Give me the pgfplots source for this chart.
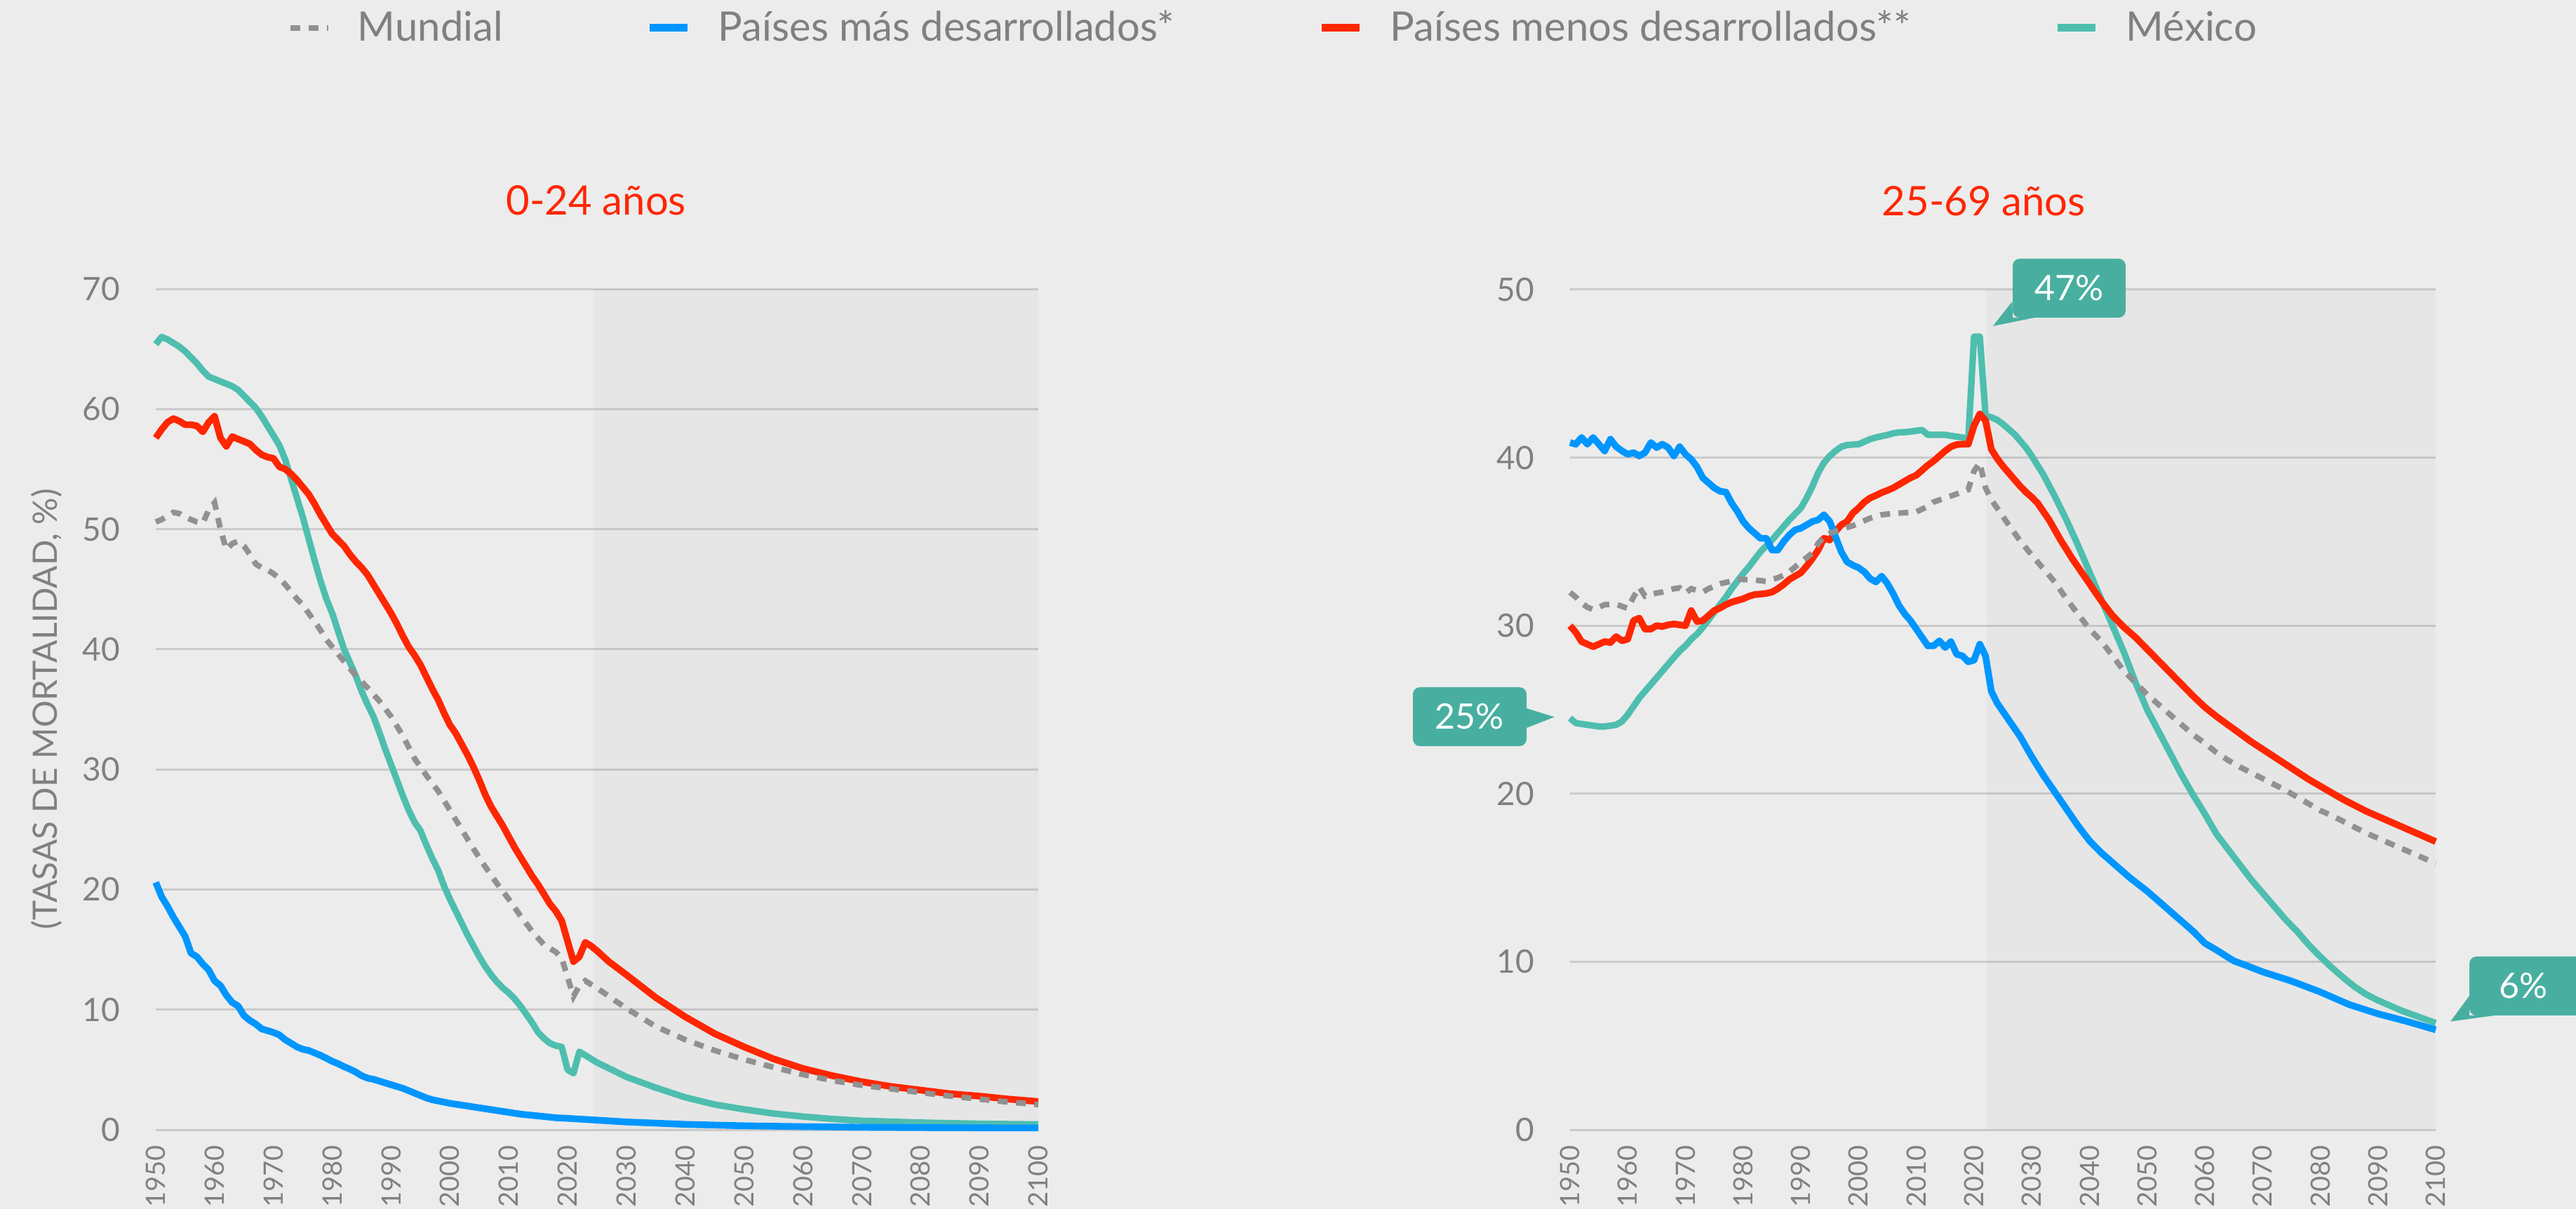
\documentclass[border=0pt]{standalone}
\usepackage{fontspec}
\setmainfont{Lato}
\usepackage{pgfplots}
\pgfplotsset{compat=1.18}
\definecolor{bgc}{RGB}{236,236,236}
\definecolor{gridc}{RGB}{202,202,202}
\definecolor{txtc}{RGB}{128,128,128}
\definecolor{bluec}{RGB}{0,150,255}
\definecolor{redc}{RGB}{255,38,0}
\definecolor{tealc}{RGB}{78,190,175}
\definecolor{callc}{RGB}{72,175,160}
\definecolor{grayc}{RGB}{145,145,145}
\pgfplotsset{
  myaxis/.style={
    scale only axis, enlargelimits=false, clip=false,
    xmin=1950, xmax=2100, xtick={1950,1960,...,2100},
    axis line style={draw=none}, major tick length=0pt,
    ymajorgrids, grid style={gridc, line width=0.75bp},
    /pgf/number format/assume math mode=true,
    /pgf/number format/1000 sep={},
    xticklabel style={yshift=-5.5bp, rotate=90, anchor=east, inner sep=0pt, text=txtc, font=\fontsize{9.5bp}{10bp}\selectfont},
    yticklabel style={anchor=east, inner sep=0pt, xshift=-12.5bp, text=txtc, font=\fontsize{11.5bp}{12bp}\selectfont},
    title style={anchor=base, yshift=20.5bp, text=redc, font=\fontsize{14.5bp}{16bp}\selectfont},
  },
  shadeplot/.style={draw=none, fill=black, fill opacity=0.022, forget plot},
  mund/.style={grayc, line width=2bp, dash pattern=on 3.5bp off 3bp},
  mas/.style={bluec, line width=2.4bp, line join=round},
  men/.style={redc, line width=2.4bp, line join=round},
  mex/.style={tealc, line width=2.3bp, line join=round},
}
\begin{document}
\begin{tikzpicture}
\fill[bgc] (0bp,0bp) rectangle (918bp,431bp);

% ---------- left panel ----------
\begin{axis}[myaxis, at={(55.5bp,28.25bp)}, anchor=south west,
  width=314.5bp, height=299.75bp, ymin=0, ymax=70, ytick={0,10,...,70},
  title={0-24 años}, title style={at={(axis description cs:0.499,1)}},
  ylabel={(TASAS DE MORTALIDAD, \%)},
  ylabel style={at={(axis description cs:-0.124,0.5)}, anchor=center, text=txtc, font=\fontsize{12bp}{13bp}\selectfont},
  legend image code/.code={\draw[#1] (0bp,0bp) -- (13.5bp,0bp);},
  legend columns=4,
  legend style={at={(axis description cs:0.1494,1.3103)}, anchor=west, draw=none, fill=none,
    inner sep=0pt, outer sep=0pt,
    nodes={inner sep=0pt, text=txtc, font=\fontsize{14.5bp}{16bp}\selectfont},
    /tikz/every odd column/.append style={column sep=9.5bp},
    /tikz/every even column/.append style={column sep=51bp}},
]
\addplot[shadeplot] coordinates {(2024.5,0)(2024.5,70)(2100,70)(2100,0)} -- cycle;
\addlegendimage{mund}\addlegendentry{Mundial}
\addlegendimage{mas, line width=2.75bp}\addlegendentry{Países más desarrollados*}
\addlegendimage{men, line width=2.75bp}\addlegendentry{Países menos desarrollados**}
\addlegendimage{mex, line width=2.75bp}\addlegendentry{México}

\addplot[mex, forget plot] coordinates {(1950,65.4)(1951,66.0)(1952,65.8)(1953,65.5)(1954,65.2)(1955,64.8)(1956,64.3)(1957,63.8)(1958,63.2)(1959,62.7)(1960,62.5)(1961,62.3)(1962,62.1)(1963,61.9)(1964,61.6)(1965,61.1)(1966,60.6)(1967,60.1)(1968,59.4)(1969,58.6)(1970,57.8)(1971,57.0)(1972,55.8)(1973,54.2)(1974,52.6)(1975,51.0)(1976,49.2)(1977,47.4)(1978,45.7)(1979,44.2)(1980,43.0)(1981,41.5)(1982,40.0)(1983,38.9)(1984,37.8)(1985,36.5)(1986,35.4)(1987,34.4)(1988,33.1)(1989,31.7)(1990,30.4)(1991,29.1)(1992,27.8)(1993,26.6)(1994,25.6)(1995,24.9)(1996,23.7)(1997,22.6)(1998,21.6)(1999,20.3)(2000,19.2)(2001,18.2)(2002,17.2)(2003,16.2)(2004,15.3)(2005,14.4)(2006,13.6)(2007,12.9)(2008,12.3)(2009,11.8)(2010,11.4)(2011,10.9)(2012,10.3)(2013,9.6)(2014,8.9)(2015,8.1)(2016,7.6)(2017,7.2)(2018,7.0)(2019,6.9)(2020,5.0)(2021,4.7)(2022,6.5)(2023,6.2)(2024,5.9)(2025,5.6)(2030,4.4)(2035,3.5)(2040,2.7)(2045,2.1)(2050,1.7)(2055,1.35)(2060,1.1)(2065,0.9)(2070,0.75)(2080,0.6)(2090,0.5)(2100,0.45)};
\addplot[men, forget plot] coordinates {(1950,57.6)(1951,58.3)(1952,58.9)(1953,59.2)(1954,59.0)(1955,58.7)(1956,58.7)(1957,58.6)(1958,58.1)(1959,58.9)(1960,59.4)(1961,57.6)(1962,56.9)(1963,57.7)(1964,57.5)(1965,57.3)(1966,57.1)(1967,56.6)(1968,56.2)(1969,56.0)(1970,55.9)(1971,55.2)(1972,55.0)(1973,54.6)(1974,54.1)(1975,53.5)(1976,52.9)(1977,52.1)(1978,51.2)(1979,50.4)(1980,49.6)(1981,49.1)(1982,48.6)(1983,47.9)(1984,47.3)(1985,46.8)(1986,46.2)(1987,45.4)(1988,44.6)(1989,43.8)(1990,43.0)(1991,42.1)(1992,41.1)(1993,40.2)(1994,39.5)(1995,38.7)(1996,37.7)(1997,36.7)(1998,35.8)(1999,34.7)(2000,33.7)(2001,33.0)(2002,32.1)(2003,31.2)(2004,30.2)(2005,29.1)(2006,27.9)(2007,26.9)(2008,26.1)(2009,25.3)(2010,24.4)(2011,23.5)(2012,22.7)(2013,21.9)(2014,21.1)(2015,20.4)(2016,19.6)(2017,18.8)(2018,18.2)(2019,17.4)(2020,15.7)(2021,14.0)(2022,14.4)(2023,15.6)(2024,15.3)(2025,14.9)(2027,14.0)(2030,12.9)(2035,11.0)(2040,9.4)(2045,8.0)(2050,6.9)(2055,5.9)(2060,5.1)(2065,4.5)(2070,4.0)(2075,3.6)(2080,3.3)(2085,3.0)(2090,2.8)(2095,2.55)(2100,2.35)};
\addplot[mas, forget plot] coordinates {(1950,20.6)(1951,19.4)(1952,18.6)(1953,17.7)(1954,16.9)(1955,16.1)(1956,14.7)(1957,14.4)(1958,13.8)(1959,13.3)(1960,12.4)(1961,12.0)(1962,11.2)(1963,10.6)(1964,10.3)(1965,9.5)(1966,9.1)(1967,8.8)(1968,8.4)(1969,8.25)(1970,8.1)(1971,7.9)(1972,7.5)(1973,7.2)(1974,6.9)(1975,6.7)(1976,6.6)(1977,6.4)(1978,6.2)(1979,5.95)(1980,5.7)(1981,5.5)(1982,5.25)(1983,5.05)(1984,4.8)(1985,4.5)(1986,4.3)(1987,4.2)(1988,4.05)(1989,3.9)(1990,3.75)(1991,3.6)(1992,3.45)(1993,3.25)(1994,3.05)(1995,2.85)(1996,2.65)(1997,2.5)(1998,2.4)(1999,2.3)(2000,2.2)(2002,2.05)(2004,1.9)(2006,1.75)(2008,1.6)(2010,1.45)(2012,1.3)(2014,1.2)(2016,1.1)(2018,1.0)(2020,0.95)(2025,0.8)(2030,0.65)(2040,0.45)(2050,0.33)(2060,0.26)(2070,0.21)(2080,0.18)(2090,0.16)(2100,0.15)};
\addplot[mund, forget plot] coordinates {(1950,50.6)(1951,50.8)(1952,51.1)(1953,51.4)(1954,51.3)(1955,51.0)(1956,50.8)(1957,50.6)(1958,50.5)(1959,51.6)(1960,52.2)(1961,50.0)(1962,48.3)(1963,48.8)(1964,49.0)(1965,48.6)(1966,47.9)(1967,47.1)(1968,46.8)(1969,46.6)(1970,46.3)(1971,45.9)(1972,45.4)(1973,44.8)(1974,44.2)(1975,43.7)(1976,43.0)(1977,42.3)(1978,41.6)(1979,40.8)(1980,40.2)(1982,39.0)(1984,37.8)(1986,36.8)(1988,35.7)(1990,34.4)(1992,32.8)(1994,30.9)(1996,29.5)(1998,28.2)(2000,26.6)(2002,25.0)(2004,23.4)(2006,21.9)(2008,20.5)(2010,19.2)(2012,17.8)(2014,16.5)(2016,15.4)(2018,14.8)(2019,14.3)(2020,12.7)(2021,11.1)(2022,12.0)(2023,12.4)(2024,12.1)(2025,11.8)(2030,10.1)(2035,8.6)(2040,7.5)(2045,6.6)(2050,5.85)(2055,5.2)(2060,4.6)(2065,4.1)(2070,3.7)(2075,3.4)(2080,3.1)(2085,2.8)(2090,2.55)(2095,2.3)(2100,2.1)};
\end{axis}

% ---------- right panel ----------
\begin{axis}[myaxis, at={(559.5bp,28.25bp)}, anchor=south west,
  width=308.5bp, height=299.5bp, ymin=0, ymax=50, ytick={0,10,...,50},
  title={25-69 años}, title style={at={(axis description cs:0.478,1)}},
]
\addplot[shadeplot] coordinates {(2022.2,0)(2022.2,50)(2100,50)(2100,0)} -- cycle;
\addplot[mex] coordinates {(1950,24.5)(1951,24.2)(1952,24.15)(1953,24.1)(1954,24.05)(1955,24.0)(1956,24.0)(1957,24.05)(1958,24.1)(1959,24.3)(1960,24.7)(1961,25.2)(1962,25.7)(1963,26.1)(1964,26.5)(1965,26.9)(1966,27.3)(1967,27.7)(1968,28.1)(1969,28.5)(1970,28.8)(1971,29.2)(1972,29.5)(1973,29.9)(1974,30.35)(1975,30.8)(1976,31.25)(1977,31.7)(1978,32.2)(1979,32.65)(1980,33.1)(1981,33.5)(1982,33.95)(1983,34.4)(1984,34.75)(1985,35.1)(1986,35.5)(1987,35.9)(1988,36.3)(1989,36.65)(1990,37.0)(1991,37.6)(1992,38.3)(1993,39.1)(1994,39.7)(1995,40.1)(1996,40.4)(1997,40.65)(1998,40.75)(1999,40.78)(2000,40.8)(2001,40.95)(2002,41.1)(2003,41.2)(2004,41.28)(2005,41.35)(2006,41.45)(2007,41.5)(2008,41.52)(2009,41.55)(2010,41.6)(2011,41.65)(2012,41.36)(2013,41.36)(2014,41.36)(2015,41.36)(2016,41.3)(2017,41.25)(2018,41.2)(2019,41.1)(2020,47.2)(2021,47.2)(2022,42.5)(2023,42.4)(2024,42.25)(2025,42.0)(2026,41.7)(2027,41.4)(2028,41.0)(2029,40.6)(2030,40.1)(2032,39.0)(2034,37.7)(2036,36.3)(2038,34.8)(2040,33.2)(2042,31.6)(2044,30.0)(2046,28.4)(2048,26.6)(2050,25.0)(2052,23.7)(2054,22.4)(2056,21.1)(2058,19.9)(2060,18.8)(2062,17.6)(2064,16.7)(2066,15.8)(2068,14.9)(2070,14.1)(2072,13.3)(2074,12.5)(2076,11.8)(2078,11.0)(2080,10.3)(2082,9.65)(2084,9.05)(2086,8.5)(2088,8.05)(2090,7.7)(2092,7.4)(2094,7.1)(2096,6.85)(2098,6.6)(2100,6.35)};
\addplot[men] coordinates {(1950,30.0)(1951,29.6)(1952,29.05)(1953,28.9)(1954,28.75)(1955,28.9)(1956,29.05)(1957,29.0)(1958,29.35)(1959,29.1)(1960,29.2)(1961,30.3)(1962,30.45)(1963,29.8)(1964,29.8)(1965,30.0)(1966,29.95)(1967,30.05)(1968,30.1)(1969,30.05)(1970,30.0)(1971,30.9)(1972,30.25)(1973,30.3)(1974,30.6)(1975,30.9)(1976,31.05)(1977,31.25)(1978,31.4)(1979,31.5)(1980,31.6)(1981,31.75)(1982,31.85)(1983,31.88)(1984,31.92)(1985,32.0)(1986,32.2)(1987,32.45)(1988,32.75)(1989,32.95)(1990,33.15)(1991,33.55)(1992,34.0)(1993,34.5)(1994,35.2)(1995,35.1)(1996,35.6)(1997,36.0)(1998,36.2)(1999,36.7)(2000,37.0)(2001,37.35)(2002,37.6)(2003,37.75)(2004,37.92)(2005,38.05)(2006,38.2)(2007,38.4)(2008,38.6)(2009,38.8)(2010,38.95)(2011,39.25)(2012,39.55)(2013,39.8)(2014,40.1)(2015,40.4)(2016,40.65)(2017,40.78)(2018,40.8)(2019,40.8)(2020,41.9)(2021,42.6)(2022,42.2)(2023,40.5)(2024,39.95)(2025,39.5)(2026,39.1)(2027,38.7)(2028,38.3)(2029,37.95)(2030,37.65)(2031,37.3)(2032,36.8)(2033,36.3)(2034,35.7)(2035,35.1)(2036,34.55)(2037,34.0)(2038,33.5)(2039,33.0)(2040,32.5)(2042,31.5)(2044,30.6)(2046,29.9)(2048,29.3)(2050,28.6)(2052,27.9)(2054,27.2)(2056,26.5)(2058,25.8)(2060,25.15)(2062,24.6)(2064,24.1)(2066,23.6)(2068,23.1)(2070,22.65)(2072,22.2)(2074,21.75)(2076,21.3)(2078,20.85)(2080,20.45)(2082,20.05)(2084,19.65)(2086,19.3)(2088,18.95)(2090,18.65)(2092,18.35)(2094,18.05)(2096,17.75)(2098,17.45)(2100,17.15)};
\addplot[mas] coordinates {(1950,40.9)(1951,40.8)(1952,41.2)(1953,40.8)(1954,41.2)(1955,40.8)(1956,40.4)(1957,41.1)(1958,40.65)(1959,40.4)(1960,40.2)(1961,40.3)(1962,40.1)(1963,40.3)(1964,40.9)(1965,40.6)(1966,40.8)(1967,40.6)(1968,40.1)(1969,40.65)(1970,40.2)(1971,39.9)(1972,39.45)(1973,38.8)(1974,38.5)(1975,38.2)(1976,38.0)(1977,37.95)(1978,37.3)(1979,36.8)(1980,36.2)(1981,35.8)(1982,35.5)(1983,35.2)(1984,35.2)(1985,34.5)(1986,34.5)(1987,35.0)(1988,35.4)(1989,35.7)(1990,35.8)(1991,36.0)(1992,36.2)(1993,36.3)(1994,36.6)(1995,36.2)(1996,35.3)(1997,34.4)(1998,33.8)(1999,33.6)(2000,33.45)(2001,33.2)(2002,32.8)(2003,32.6)(2004,32.95)(2005,32.5)(2006,31.9)(2007,31.2)(2008,30.7)(2009,30.3)(2010,29.8)(2011,29.3)(2012,28.8)(2013,28.8)(2014,29.1)(2015,28.7)(2016,29.05)(2017,28.3)(2018,28.2)(2019,27.85)(2020,27.95)(2021,28.9)(2022,28.2)(2023,26.1)(2024,25.4)(2025,24.9)(2028,23.4)(2030,22.2)(2032,21.1)(2035,19.6)(2038,18.1)(2040,17.2)(2042,16.5)(2045,15.6)(2047,15.0)(2050,14.2)(2052,13.6)(2055,12.7)(2058,11.8)(2060,11.1)(2062,10.7)(2065,10.05)(2067,9.8)(2070,9.4)(2075,8.85)(2080,8.2)(2085,7.45)(2090,6.9)(2095,6.45)(2100,5.95)};
\addplot[mund] coordinates {(1950,31.98)(1951,31.7)(1952,31.35)(1953,31.1)(1954,30.96)(1955,31.1)(1956,31.25)(1957,31.27)(1958,31.28)(1959,31.15)(1960,31.03)(1961,31.7)(1962,32.3)(1963,31.76)(1964,31.85)(1965,31.94)(1966,32.0)(1967,32.1)(1968,32.2)(1969,32.25)(1970,31.94)(1971,32.2)(1972,32.1)(1973,32.0)(1974,32.2)(1975,32.35)(1976,32.5)(1977,32.57)(1978,32.66)(1979,32.76)(1980,32.75)(1982,32.72)(1984,32.64)(1985,32.75)(1986,32.85)(1987,33.0)(1988,33.2)(1989,33.5)(1990,33.8)(1991,34.05)(1992,34.33)(1993,34.9)(1994,35.3)(1995,35.5)(1996,35.62)(1997,35.75)(1998,35.85)(1999,35.95)(2000,36.1)(2002,36.4)(2004,36.6)(2006,36.68)(2008,36.72)(2010,36.77)(2012,37.1)(2013,37.36)(2015,37.6)(2017,37.84)(2019,38.1)(2020,39.2)(2021,39.7)(2022,38.2)(2023,37.5)(2024,37.0)(2026,36.0)(2028,35.05)(2030,34.2)(2032,33.4)(2034,32.6)(2036,31.6)(2038,30.7)(2040,29.8)(2042,29.1)(2044,28.2)(2046,27.3)(2048,26.6)(2050,25.9)(2052,25.3)(2054,24.7)(2056,24.1)(2058,23.5)(2060,23.0)(2062,22.45)(2064,22.0)(2066,21.6)(2068,21.25)(2070,20.9)(2072,20.55)(2074,20.2)(2076,19.8)(2078,19.4)(2080,19.0)(2082,18.7)(2084,18.35)(2086,18.0)(2088,17.65)(2090,17.35)(2092,17.05)(2094,16.75)(2096,16.45)(2098,16.15)(2100,15.85)};
\end{axis}

% ---------- callouts ----------
\fill[callc, rounded corners=2.5bp] (717.25bp,317.75bp) rectangle (757.5bp,338.75bp);
\fill[callc] (717.1bp,323.5bp) -- (710.2bp,314.75bp) -- (725bp,317.75bp) -- (717.25bp,317.75bp) -- cycle;
\node[text=white, font=\fontsize{12.5bp}{14bp}\selectfont] at (737.4bp,328.25bp) {47\%};

\fill[callc, rounded corners=2.5bp] (503.5bp,165bp) rectangle (544bp,186bp);
\fill[callc] (544bp,178.5bp) -- (553.95bp,175.4bp) -- (544bp,171.5bp) -- cycle;
\node[text=white, font=\fontsize{12.5bp}{14bp}\selectfont] at (523.75bp,175.5bp) {25\%};

\fill[callc, rounded corners=2.5bp] (880bp,69bp) rectangle (925bp,90bp);
\fill[callc] (880bp,76bp) -- (873.25bp,66.85bp) -- (889bp,69bp) -- (880bp,69bp) -- cycle;
\node[text=white, font=\fontsize{12.5bp}{14bp}\selectfont] at (899.3bp,79.5bp) {6\%};

\pgfresetboundingbox
\path[use as bounding box] (0bp,0bp) rectangle (918bp,431bp);
\end{tikzpicture}
\end{document}
